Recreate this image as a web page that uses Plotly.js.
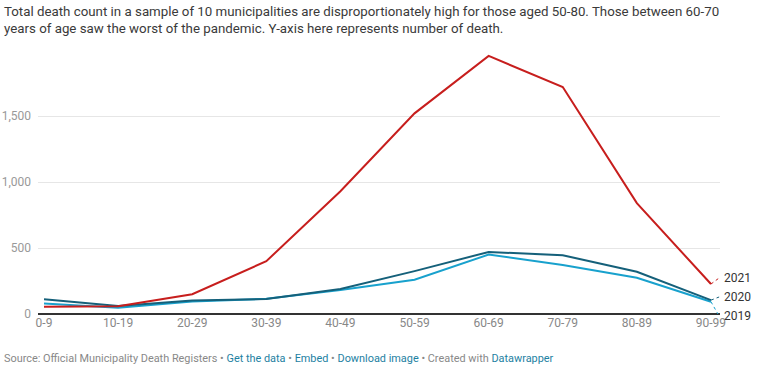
<!DOCTYPE html>
<html><head><meta charset="utf-8">
<script src="https://cdn.plot.ly/plotly-3.0.1.min.js"></script>
<style>
html,body{margin:0;padding:0;background:#fff;}
#chart{width:764px;height:368px;}
</style></head>
<body><div id="chart"></div>
<script>
const ageGroups = ["0-9","10-19","20-29","30-39","40-49","50-59","60-69","70-79","80-89","90-99"];
const deaths2021 = [55, 58, 150, 400, 930, 1520, 1955, 1720, 840, 227];
const deaths2020 = [112, 60, 102, 113, 190, 325, 470, 445, 320, 105];
const deaths2019 = [80, 48, 95, 115, 182, 260, 450, 372, 275, 93];
const seriesNames = ["2021", "2020", "2019"];
const yTicks = [0, 500, 1000, 1500];

const colors = ["#c71e1d", "#15607a", "#18a1cd"];
const allSeries = [deaths2021, deaths2020, deaths2019];

const order = [2, 1, 0];
const traces = order.map(i => ({
  x: ageGroups, y: allSeries[i], type: "scatter", mode: "lines",
  name: seriesNames[i], line: {color: colors[i], width: 2}, hoverinfo: "x+y"
}));

const W = 682, H = 264, ML = 38, MT = 50;
const y0px = 314, pxPerUnit = 264 / 2000;
const labelY = [278, 297, 316];
const lastIdx = ageGroups.length - 1;

const titleText = "Total death count in a sample of 10 municipalities are disproportionately high for those aged 50-80. Those between 60-70<br>years of age saw the worst of the pandemic. Y-axis here represents number of death.";
const footerText = 'Source: Official Municipality Death Registers • <span style="color:#1d81a2">Get the data</span> • <span style="color:#1d81a2">Embed</span> • <span style="color:#1d81a2">Download image</span> • Created with <span style="color:#1d81a2">Datawrapper</span>';

const layout = {
  width: 764, height: 368,
  margin: {l: ML, r: 764 - ML - W, t: MT, b: 368 - MT - H},
  paper_bgcolor: "#fff", plot_bgcolor: "#fff",
  font: {family: "Roboto, sans-serif", size: 12, color: "#333"},
  showlegend: false,
  xaxis: {
    type: "category", range: [-0.081, 9.122],
    showgrid: false, zeroline: false, showline: false,
    ticks: "", tickfont: {size: 12, color: "#888"}, fixedrange: true
  },
  yaxis: {
    range: [0, 2000], tickvals: yTicks, ticktext: yTicks.map(v => v.toLocaleString("en-US")),
    showgrid: true, gridcolor: "#e6e6e6", gridwidth: 1,
    zeroline: true, zerolinecolor: "#333", zerolinewidth: 1.5,
    showline: false, ticks: "", ticklabelstandoff: 6,
    tickfont: {size: 12, color: "#999"}, fixedrange: true
  },
  annotations: [],
  shapes: []
};

layout.annotations.push({
  xref: "paper", yref: "paper", x: (2 - ML) / W, y: 1 + (MT - 2) / H,
  text: titleText, showarrow: false, xanchor: "left", yanchor: "top", align: "left",
  font: {family: "Roboto, sans-serif", size: 13.3, color: "#3a3a3a"}
});

seriesNames.forEach((n, i) => {
  const ptPx = y0px - allSeries[i][lastIdx] * pxPerUnit;
  layout.annotations.push({
    x: lastIdx, y: allSeries[i][lastIdx], xref: "x", yref: "y",
    xshift: 11, yshift: ptPx - labelY[i],
    text: n, showarrow: false, xanchor: "left", yanchor: "middle",
    font: {family: "Roboto, sans-serif", size: 12, color: "#333"}
  });
  layout.shapes.push({
    type: "line", xref: "x", yref: "y", x0: lastIdx, y0: allSeries[i][lastIdx],
    x1: lastIdx + 0.11, y1: (y0px - labelY[i]) / pxPerUnit,
    line: {color: colors[i], width: 1, dash: "dot"}
  });
});

layout.annotations.push({
  xref: "paper", yref: "paper", x: (2 - ML) / W, y: -(358 - y0px) / H,
  text: footerText, showarrow: false, xanchor: "left", yanchor: "middle",
  font: {family: "Roboto, sans-serif", size: 10.9, color: "#888"}
});

Plotly.newPlot("chart", traces, layout, {displayModeBar: false, staticPlot: true});
</script></body></html>
